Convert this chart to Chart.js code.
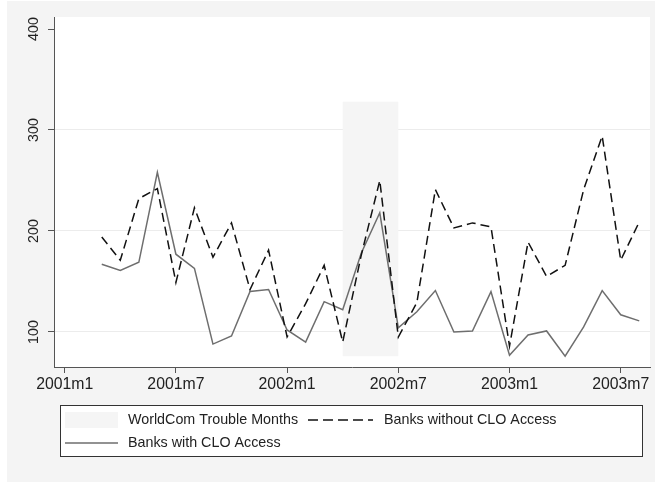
<!DOCTYPE html>
<html>
<head>
<meta charset="utf-8">
<script src="https://cdn.jsdelivr.net/npm/chart.js@4"></script>
<style>
  html, body { margin: 0; padding: 0; background: #ffffff; }
  #wrap { width: 655px; height: 483px; }
</style>
</head>
<body>
<div id="wrap"><canvas id="myChart" width="655" height="483"></canvas></div>
<script>
// months with data
const months = ['2001m3','2001m4','2001m5','2001m6','2001m7','2001m8','2001m9','2001m10','2001m11','2001m12',
  '2002m1','2002m2','2002m3','2002m4','2002m5','2002m6','2002m7','2002m8','2002m9','2002m10','2002m11','2002m12',
  '2003m1','2003m2','2003m3','2003m4','2003m5','2003m6','2003m7','2003m8'];
const withoutCLO = [194, 171, 232, 242, 149, 223, 174, 208, 142, 181,
  95, 128, 166, 90, 176, 250, 95, 129, 241, 203, 208, 204,
  86, 189, 155, 166, 241, 294, 171, 209];
const withCLO = [167, 161, 169, 258, 177, 163, 88, 96, 140, 142,
  102, 90, 130, 122, 178, 218, 104, 120, 141, 100, 101, 140,
  77, 97, 101, 76, 105, 141, 117, 111];
const xTickLabels = ['2001m1', '2001m7', '2002m1', '2002m7', '2003m1', '2003m7'];
const yTicks = [100, 200, 300, 400];
// shaded WorldCom months and its vertical span
const troubleMonths = ['2002m4', '2002m7'];
const troubleRange = [76, 328];

const legendTexts = ['WorldCom Trouble Months', 'Banks without CLO Access', 'Banks with CLO Access'];

// month string -> index from 2001m1
function monthIndex(s) {
  const p = s.split('m');
  return (parseInt(p[0]) - 2001) * 12 + parseInt(p[1]) - 1;
}
function indexLabel(i) {
  return (2001 + Math.floor(i / 12)) + 'm' + (i % 12 + 1);
}

const FONT = '"Liberation Sans", Arial, sans-serif';
const TEXT = '#222222';
const SHADE = '#f5f5f5';

const bgPlugin = {
  id: 'bg',
  beforeDraw(chart) {
    const c = chart.ctx, a = chart.chartArea;
    c.save();
    c.fillStyle = '#f4f4f4';
    c.fillRect(7, 1, chart.width - 7, chart.height - 2);
    c.fillStyle = '#ffffff';
    c.fillRect(a.left, a.top, a.right - a.left, a.bottom - a.top);
    c.restore();
  },
  beforeDatasetsDraw(chart) {
    const c = chart.ctx, x = chart.scales.x, y = chart.scales.y;
    const x0 = x.getPixelForValue(monthIndex(troubleMonths[0]));
    const x1 = x.getPixelForValue(monthIndex(troubleMonths[1]));
    const y0 = y.getPixelForValue(troubleRange[1]);
    const y1 = y.getPixelForValue(troubleRange[0]);
    c.save();
    c.fillStyle = SHADE;
    c.fillRect(x0, y0, x1 - x0, y1 - y0);
    c.restore();
  },
  afterDraw(chart) {
    const c = chart.ctx;
    c.save();
    // legend box
    c.fillStyle = '#ffffff';
    c.fillRect(60.5, 405.5, 582, 51);
    c.strokeStyle = '#333333';
    c.lineWidth = 1;
    c.strokeRect(60.5, 405.5, 582, 51);
    c.fillStyle = SHADE;
    c.fillRect(65, 412, 53, 16);
    c.lineWidth = 1.5;
    c.strokeStyle = '#111111';
    c.setLineDash([10, 5]);
    c.beginPath(); c.moveTo(308, 420); c.lineTo(373, 420); c.stroke();
    c.setLineDash([]);
    c.strokeStyle = '#6e6e6e';
    c.beginPath(); c.moveTo(65, 443); c.lineTo(118, 443); c.stroke();
    c.fillStyle = TEXT;
    c.font = '14.3px ' + FONT;
    c.textBaseline = 'middle';
    c.fillText(legendTexts[0], 128, 420);
    c.fillText(legendTexts[1], 384, 420);
    c.fillText(legendTexts[2], 128, 443);
    c.restore();
  }
};

const ctx = document.getElementById('myChart');
new Chart(ctx, {
  type: 'line',
  data: {
    datasets: [{
      label: legendTexts[1],
      data: months.map((m, i) => ({ x: monthIndex(m), y: withoutCLO[i] })),
      borderColor: '#111111',
      borderWidth: 1.5,
      borderDash: [9, 5],
      pointRadius: 0,
      tension: 0
    }, {
      label: legendTexts[2],
      data: months.map((m, i) => ({ x: monthIndex(m), y: withCLO[i] })),
      borderColor: '#6e6e6e',
      borderWidth: 1.5,
      pointRadius: 0,
      tension: 0
    }]
  },
  options: {
    responsive: false,
    animation: false,
    layout: { padding: { left: 0, right: 5, top: 17, bottom: 0 } },
    plugins: { legend: { display: false }, tooltip: { enabled: false } },
    scales: {
      x: {
        type: 'linear',
        min: -0.577,
        max: 31.58,
        afterFit(s) { s.height = 116; },
        afterBuildTicks(s) { s.ticks = xTickLabels.map(t => ({ value: monthIndex(t) })); },
        grid: { display: true, drawOnChartArea: false, drawTicks: true, tickLength: 6, color: '#555555' },
        border: { display: true, color: '#555555', width: 1 },
        ticks: {
          font: { family: FONT, size: 15.8 },
          color: TEXT,
          padding: 2,
          maxRotation: 0,
          callback: v => indexLabel(v)
        }
      },
      y: {
        min: 65.3,
        max: 411.9,
        afterFit(s) { s.width = 54; },
        afterBuildTicks(s) { s.ticks = yTicks.map(v => ({ value: v })); },
        grid: {
          color: ctx => ctx.tick && ctx.tick.value === 400 ? 'rgba(0,0,0,0)' : '#ececec',
          tickColor: '#555555',
          tickLength: 6
        },
        border: { display: true, color: '#555555', width: 1 },
        ticks: {
          font: { family: FONT, size: 14.3 },
          color: TEXT,
          minRotation: 90,
          maxRotation: 90,
          crossAlign: 'center',
          padding: 2
        }
      }
    }
  },
  plugins: [bgPlugin]
});
</script>
</body>
</html>
